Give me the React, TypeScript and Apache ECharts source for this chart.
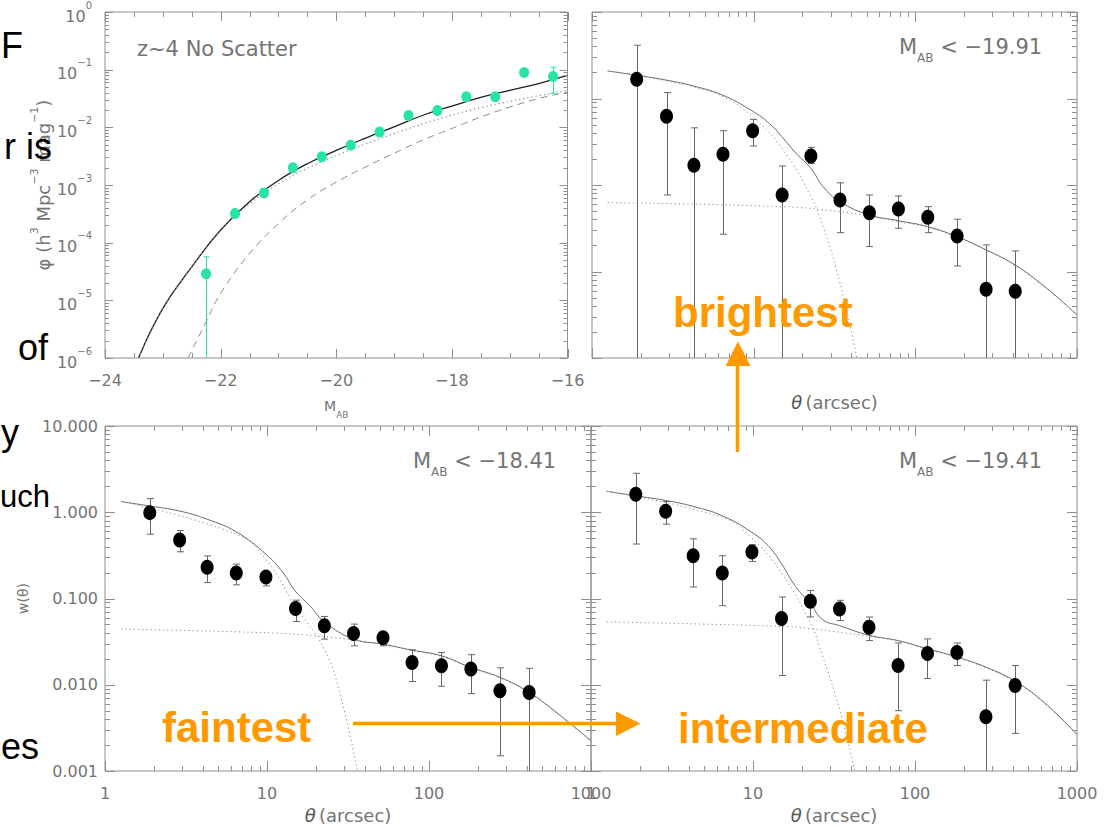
import React, { useEffect, useRef } from 'react';
import * as echarts from 'echarts';

// ---------------- Panel 1 : z~4 luminosity function ----------------
const lfMag = [-22.25, -21.75, -21.25, -20.75, -20.25, -19.75, -19.25, -18.75, -18.25, -17.75, -17.25, -16.75, -16.25];
const lfPhi = [2.9e-5, 3.2e-4, 7.3e-4, 2.0e-3, 3.1e-3, 4.9e-3, 8.3e-3, 0.016, 0.0195, 0.034, 0.034, 0.089, 0.076];
const lfErrHi = [5.7e-5, null, null, null, null, null, null, null, null, null, null, null, 0.11];
const lfErrLo = [null, null, null, null, null, null, null, null, null, null, null, null, 0.039];

const lfModelMag = [-23.42, -23, -22.5, -22, -21.5, -21, -20.5, -20, -19.5, -19, -18.5, -18, -17.5, -17, -16.5, -16];
const lfModelTotal = [1e-6, 7.24e-6, 3.8e-5, 1.66e-4, 5.13e-4, 1.2e-3, 2.34e-3, 3.98e-3, 6.46e-3, 0.0102, 0.0162, 0.0234, 0.0331, 0.0437, 0.0575, 0.0794];
const lfModelDotted = [1e-6, 7.24e-6, 3.8e-5, 1.62e-4, 4.68e-4, 1.05e-3, 1.95e-3, 3.24e-3, 5.13e-3, 7.76e-3, 0.0115, 0.0162, 0.0219, 0.0282, 0.0355, 0.0437];
const lfDashedMag = [-22.56, -22.25, -22, -21.5, -21, -20.5, -20, -19.5, -19, -18.5, -18, -17.5, -17, -16.5, -16];
const lfModelDashed = [1e-6, 4.27e-6, 1.32e-5, 6.46e-5, 2.14e-4, 5.5e-4, 1.12e-3, 2.04e-3, 3.55e-3, 6.03e-3, 9.55e-3, 0.0151, 0.0224, 0.0316, 0.0407];

// ---------------- Angular correlation bins ----------------
const thetaBins = [1.89, 2.89, 4.27, 6.46, 9.85, 15.0, 22.6, 34.2, 52.0, 78.6, 119.4, 181.3, 274, 415];

// brightest  (M_AB < -19.91)
const wBright = [1.67, 0.625, 0.169, 0.226, 0.424, 0.0767, 0.216, 0.0672, 0.0479, 0.0528, 0.0424, 0.0258, 0.00625, 0.00593];
const hiBright = [4.13, 1.17, 0.458, 0.424, 0.573, 0.166, 0.272, 0.106, 0.0767, 0.0746, 0.0562, 0.0402, 0.0203, 0.0173];
const loBright = [null, 0.0767, null, 0.027, 0.282, null, 0.178, 0.0281, 0.0194, 0.0316, 0.0281, 0.0116, null, null];
const brightModelTheta = [1.25, 1.89, 2.89, 4.27, 6.45, 9.85, 12.5, 14.96, 18.3, 22.6, 26.9, 34.2, 51.9, 78.5, 119.3, 181, 274, 414, 630, 1000];
const brightModelTotal = [2.08, 1.86, 1.63, 1.39, 1.09, 0.714, 0.515, 0.361, 0.232, 0.156, 0.0955, 0.0641, 0.0451, 0.0387, 0.033, 0.0253, 0.0178, 0.0119, 0.0067, 0.00316];
const brightOneHaloTheta = [1.25, 1.89, 2.89, 4.27, 6.45, 9.85, 14.96, 22.6, 26.9, 34.2, 43.5];
const brightOneHalo = [2.08, 1.84, 1.6, 1.36, 1.05, 0.614, 0.265, 0.0733, 0.033, 0.00733, 0.001];
const brightTwoHaloTheta = [1.25, 14.96, 34.2, 51.9, 78.5, 119.3, 181, 274, 414, 630, 1000];
const brightTwoHalo = [0.0625, 0.0562, 0.0492, 0.0437, 0.0376, 0.0324, 0.0248, 0.0176, 0.0117, 0.0066, 0.00313];

// faintest  (M_AB < -18.41)
const wFaint = [0.99, 0.478, 0.231, 0.198, 0.178, 0.0766, 0.0482, 0.0393, 0.035, 0.0181, 0.0166, 0.0152, 0.00853, 0.00815];
const hiFaint = [1.44, 0.614, 0.312, 0.25, 0.204, 0.0957, 0.0619, 0.0505, 0.0393, 0.0254, 0.0237, 0.0223, 0.0157, 0.0155];
const loFaint = [0.556, 0.348, 0.153, 0.144, 0.14, 0.0542, 0.0338, 0.0283, 0.0283, 0.0109, 0.0096, 0.0079, 0.0015, null];
const faintModelTheta = [1.26, 1.89, 2.87, 4.27, 6.46, 9.82, 12.55, 14.9, 18.4, 22.6, 34.3, 51.9, 78.5, 119, 181, 274, 415, 630, 1000];
const faintModelTotal = [1.33, 1.18, 1.035, 0.83, 0.592, 0.327, 0.2, 0.123, 0.0822, 0.0537, 0.0338, 0.0296, 0.0252, 0.0217, 0.0159, 0.0122, 0.00815, 0.00457, 0.00224];
const faintOneHaloTheta = [1.26, 6.46, 9.82, 14.9, 22.6, 28.4, 36.2];
const faintOneHalo = [1.33, 0.556, 0.286, 0.0822, 0.0259, 0.00746, 0.001];
const faintTwoHaloTheta = [1.26, 6.46, 14.9, 22.6, 34.3, 51.9, 78.5, 119, 181, 274, 415, 630, 1000];
const faintTwoHalo = [0.0442, 0.0411, 0.0386, 0.036, 0.0331, 0.0292, 0.0248, 0.0213, 0.0157, 0.012, 0.00804, 0.00452, 0.00221];

// intermediate  (M_AB < -19.41)
const wMid = [1.62, 1.03, 0.313, 0.197, 0.345, 0.0585, 0.0927, 0.0755, 0.0464, 0.0167, 0.023, 0.0236, 0.00425, 0.0098];
const hiMid = [2.83, 1.33, 0.492, 0.313, 0.42, 0.104, 0.124, 0.0953, 0.061, 0.0305, 0.034, 0.0305, 0.0113, 0.0167];
const loMid = [0.428, 0.728, 0.136, 0.0826, 0.269, 0.0128, 0.0611, 0.0555, 0.0325, 0.005, 0.0118, 0.0167, null, 0.00273];
const midModelTheta = [1.25, 1.89, 2.89, 4.27, 6.46, 9.86, 12.5, 15.0, 18.3, 22.6, 26.9, 34.2, 52.0, 78.7, 119.5, 181.5, 274, 415, 630, 1000];
const midModelTotal = [1.75, 1.55, 1.37, 1.17, 0.91, 0.583, 0.402, 0.253, 0.138, 0.0871, 0.0569, 0.0485, 0.0375, 0.0325, 0.0261, 0.021, 0.016, 0.011, 0.00618, 0.00265];
const midOneHaloTheta = [1.25, 6.46, 9.86, 15.0, 22.6, 26.9, 34.2, 42.5];
const midOneHalo = [1.75, 0.871, 0.501, 0.197, 0.052, 0.0214, 0.00518, 0.001];
const midTwoHaloTheta = [1.25, 15.0, 22.6, 34.2, 52.0, 78.7, 119.5, 181.5, 274, 415, 630, 1000];
const midTwoHalo = [0.0535, 0.0476, 0.0448, 0.0406, 0.0365, 0.032, 0.0257, 0.0207, 0.0157, 0.0108, 0.0061, 0.00263];

// ---------------- texts ----------------
const panelLabels = ['z~4 No Scatter', '−19.91', '−18.41', '−19.41'];
const sampleNames = ['brightest', 'faintest', 'intermediate'];
const slideFragments = ['F', 'r is', 'of', 'y', 'uch', 'es'];

const FONT = "'Liberation Sans', Arial, Helvetica, sans-serif";
const IDL = "'DejaVu Sans', 'Liberation Sans', sans-serif";
const FRAME = '#909090';
const LABEL = '#747474';
const CURVE = '#6a6a6a';
const DOT = '#8a8a8a';
const GREEN = '#27e3a4';
const ORANGE = '#ff9900';

type Tick = [number, number];

function decadeTicks(lo: number, hi: number, major: number, minor: number): Tick[] {
  const out: Tick[] = [];
  for (let e = lo; e <= hi; e++) {
    const base = Math.pow(10, e);
    out.push([base, major]);
    if (e < hi) for (let m = 2; m <= 9; m++) out.push([m * base, minor]);
  }
  return out;
}

function magTicks(): Tick[] {
  const out: Tick[] = [];
  for (let v = -24; v <= -16; v += 0.5) out.push([v, v % 2 === 0 ? 9 : 5]);
  return out;
}

function tickSeries(idx: number, xMin: number, yMin: number, xt: Tick[], yt: Tick[]) {
  const data = [
    ...xt.map(([v, l]) => [v, yMin, 0, l]),
    ...yt.map(([v, l]) => [xMin, v, 1, l]),
  ];
  return {
    type: 'custom',
    xAxisIndex: idx,
    yAxisIndex: idx,
    silent: true,
    clip: false,
    z: 6,
    encode: { x: 0, y: 1 },
    data,
    renderItem: (params: any, api: any) => {
      const cs = params.coordSys;
      const kind = api.value(2);
      const len = api.value(3);
      const p = api.coord([api.value(0), api.value(1)]);
      const st = { stroke: FRAME, lineWidth: 1 };
      if (kind === 0) {
        const x = Math.round(p[0]) + 0.5;
        return {
          type: 'group',
          children: [
            { type: 'line', shape: { x1: x, y1: cs.y + cs.height, x2: x, y2: cs.y + cs.height - len }, style: st },
            { type: 'line', shape: { x1: x, y1: cs.y, x2: x, y2: cs.y + len }, style: st },
          ],
        };
      }
      const y = Math.round(p[1]) + 0.5;
      return {
        type: 'group',
        children: [
          { type: 'line', shape: { x1: cs.x, y1: y, x2: cs.x + len, y2: y }, style: st },
          { type: 'line', shape: { x1: cs.x + cs.width, y1: y, x2: cs.x + cs.width - len, y2: y }, style: st },
        ],
      };
    },
  };
}

function errorSeries(idx: number, xs: number[], lo: (number | null)[], hi: (number | null)[], yMin: number, color: string, cap: number) {
  const data: any[] = [];
  xs.forEach((x, i) => {
    if (hi[i] != null) data.push([x, hi[i], lo[i] == null ? null : lo[i]]);
  });
  return {
    type: 'custom',
    xAxisIndex: idx,
    yAxisIndex: idx,
    silent: true,
    z: 4,
    encode: { x: 0, y: 1 },
    data,
    renderItem: (params: any, api: any) => {
      const x = api.value(0);
      const h = api.value(1);
      const l = api.value(2);
      const toAxis = l == null || isNaN(l) || l <= yMin;
      const pt = api.coord([x, h]);
      const pb = api.coord([x, toAxis ? yMin : l]);
      const px = Math.round(pt[0]) + 0.5;
      const st = { stroke: color, lineWidth: 1 };
      const children: any[] = [
        { type: 'line', shape: { x1: px, y1: pt[1], x2: px, y2: pb[1] }, style: st },
        { type: 'line', shape: { x1: px - cap, y1: pt[1], x2: px + cap, y2: pt[1] }, style: st },
      ];
      if (!toAxis) children.push({ type: 'line', shape: { x1: px - cap, y1: pb[1], x2: px + cap, y2: pb[1] }, style: st });
      return { type: 'group', children };
    },
  };
}

function lineSeries(idx: number, xs: number[], ys: number[], color: string, width: number, type: any) {
  return {
    type: 'line',
    xAxisIndex: idx,
    yAxisIndex: idx,
    data: xs.map((x, i) => [x, ys[i]]),
    showSymbol: false,
    symbol: 'none',
    smooth: 0.45,
    silent: true,
    z: 3,
    lineStyle: { color, width, type },
  };
}

function scatterSeries(idx: number, xs: number[], ys: number[], color: string, size: number[]) {
  return {
    type: 'scatter',
    xAxisIndex: idx,
    yAxisIndex: idx,
    data: xs.map((x, i) => [x, ys[i]]),
    symbol: 'circle',
    symbolSize: size,
    silent: true,
    z: 5,
    itemStyle: { color, opacity: 1 },
  };
}

const baseAxis = {
  axisLine: { show: false },
  axisTick: { show: false },
  splitLine: { show: false },
  minorTick: { show: false },
  minorSplitLine: { show: false },
};

const thetaName = '{i|θ} {n|(arcsec)}';
const thetaNameStyle = {
  rich: {
    i: { fontSize: 18, fontStyle: 'italic', color: '#555', fontFamily: IDL },
    n: { fontSize: 18, color: LABEL, fontFamily: IDL },
  },
};

function thetaX(idx: number, showLabels: boolean) {
  return {
    ...baseAxis,
    type: 'log',
    logBase: 10,
    gridIndex: idx,
    min: 1,
    max: 1000,
    splitNumber: 3,
    axisLabel: {
      show: showLabels,
      color: LABEL,
      fontSize: 16,
      fontFamily: IDL,
      margin: 14,
      showMinLabel: true,
      showMaxLabel: true,
      formatter: (v: number) => String(Math.round(v)),
    },
    name: thetaName,
    nameLocation: 'middle',
    nameGap: 35,
    nameTextStyle: thetaNameStyle,
  };
}

function wY(idx: number, showLabels: boolean) {
  return {
    ...baseAxis,
    type: 'log',
    logBase: 10,
    gridIndex: idx,
    min: 0.001,
    max: 10,
    splitNumber: 4,
    axisLabel: {
      show: showLabels,
      color: LABEL,
      fontSize: 16,
      fontFamily: IDL,
      margin: 7,
      showMinLabel: true,
      showMaxLabel: true,
      formatter: (v: number) => v.toFixed(3),
    },
  };
}

const subRich = (big: number, small: number, color: string, key: 'fill' | 'color') => ({
  m: { fontSize: big, lineHeight: big, verticalAlign: 'top', [key]: color, fontFamily: IDL },
  s: { fontSize: small, lineHeight: big + 6, verticalAlign: 'bottom', [key]: color, fontFamily: IDL },
});

function panelText(x: number, y: number, value: string) {
  return {
    type: 'text',
    x,
    y,
    z: 50,
    style: {
      text: `{m|M}{s|AB}{m| < ${value}}`,
      align: 'left',
      verticalAlign: 'middle',
      rich: subRich(21, 12, LABEL, 'fill'),
    },
  };
}

function orangeText(x: number, y: number, text: string) {
  return {
    type: 'text',
    x,
    y,
    z: 100,
    style: {
      text,
      fill: ORANGE,
      fontSize: 42,
      fontWeight: 'bold',
      fontFamily: FONT,
      align: 'left',
      verticalAlign: 'middle',
    },
  };
}

function slideText(x: number, y: number, text: string, size = 36) {
  return {
    type: 'text',
    x,
    y,
    z: 100,
    style: {
      text,
      fill: '#000',
      fontSize: size,
      fontFamily: FONT,
      align: 'left',
      verticalAlign: 'middle',
    },
  };
}

function buildOption() {
  const thetaXT = decadeTicks(0, 3, 10, 5);
  const wYT = decadeTicks(-3, 1, 10, 5);
  return {
    animation: false,
    backgroundColor: '#ffffff',
    grid: [
      { left: 105, top: 12, width: 462.5, height: 346, show: true, borderColor: FRAME, borderWidth: 1, backgroundColor: 'transparent' },
      { left: 592, top: 12, width: 485, height: 346, show: true, borderColor: FRAME, borderWidth: 1, backgroundColor: 'transparent' },
      { left: 105, top: 426, width: 486, height: 345, show: true, borderColor: FRAME, borderWidth: 1, backgroundColor: 'transparent' },
      { left: 591, top: 426, width: 486, height: 345, show: true, borderColor: FRAME, borderWidth: 1, backgroundColor: 'transparent' },
    ],
    xAxis: [
      {
        ...baseAxis,
        type: 'value',
        gridIndex: 0,
        min: -24,
        max: -16,
        interval: 2,
        axisLabel: {
          color: LABEL,
          fontSize: 16,
          fontFamily: IDL,
          margin: 14,
          showMinLabel: true,
          showMaxLabel: true,
          formatter: (v: number) => (v < 0 ? '−' + Math.abs(v) : String(v)),
        },
        name: '{m|M}{s|AB}',
        nameLocation: 'middle',
        nameGap: 41,
        nameTextStyle: { rich: subRich(14, 9, LABEL, 'color') },
      },
      thetaX(1, false),
      thetaX(2, true),
      thetaX(3, true),
    ],
    yAxis: [
      {
        ...baseAxis,
        type: 'log',
        logBase: 10,
        gridIndex: 0,
        min: 1e-6,
        max: 1,
        splitNumber: 6,
        axisLabel: {
          color: LABEL,
          margin: 13,
          showMinLabel: true,
          showMaxLabel: true,
          formatter: (v: number) => {
            const e = Math.round(Math.log10(v));
            return `{b|10}{s|${e === 0 ? '0' : '−' + Math.abs(e)}}`;
          },
          rich: {
            b: { fontSize: 16, lineHeight: 24, verticalAlign: 'bottom', color: LABEL, fontFamily: IDL },
            s: { fontSize: 10, lineHeight: 10, verticalAlign: 'top', color: LABEL, fontFamily: IDL },
          },
        },
        name: '{t|φ (h}{s|3}{t| Mpc}{s|−3}{t| mag}{s|−1}{t|)}',
        nameLocation: 'middle',
        nameRotate: 90,
        nameGap: 52,
        nameTextStyle: {
          rich: {
            t: { fontSize: 18, lineHeight: 24, verticalAlign: 'bottom', color: LABEL, fontFamily: IDL },
            s: { fontSize: 11, lineHeight: 11, verticalAlign: 'top', color: LABEL, fontFamily: IDL },
          },
        },
      },
      wY(1, false),
      { ...wY(2, true), name: 'w(θ)', nameLocation: 'middle', nameRotate: 90, nameGap: 75, nameTextStyle: { fontSize: 14, color: LABEL, fontFamily: IDL } },
      wY(3, false),
    ],
    series: [
      // panel 1
      tickSeries(0, -24, 1e-6, magTicks(), decadeTicks(-6, 0, 8, 4)),
      lineSeries(0, lfModelMag, lfModelTotal, '#1e1e1e', 1.3, 'solid'),
      lineSeries(0, lfModelMag, lfModelDotted, DOT, 1.2, [1.2, 3]),
      lineSeries(0, lfDashedMag, lfModelDashed, DOT, 1, [7, 5]),
      errorSeries(0, lfMag, lfErrLo, lfErrHi, 1e-6, GREEN, 3),
      scatterSeries(0, lfMag, lfPhi, GREEN, [10, 11]),
      // panel 2 brightest
      tickSeries(1, 1, 0.001, thetaXT, wYT),
      lineSeries(1, brightModelTheta, brightModelTotal, CURVE, 1, 'solid'),
      lineSeries(1, brightOneHaloTheta, brightOneHalo, DOT, 1, [1.2, 3]),
      lineSeries(1, brightTwoHaloTheta, brightTwoHalo, DOT, 1, [1.2, 3]),
      errorSeries(1, thetaBins, loBright, hiBright, 0.001, '#666', 3.5),
      scatterSeries(1, thetaBins, wBright, '#000', [13, 15]),
      // panel 3 faintest
      tickSeries(2, 1, 0.001, thetaXT, wYT),
      lineSeries(2, faintModelTheta, faintModelTotal, CURVE, 1, 'solid'),
      lineSeries(2, faintOneHaloTheta, faintOneHalo, DOT, 1, [1.2, 3]),
      lineSeries(2, faintTwoHaloTheta, faintTwoHalo, DOT, 1, [1.2, 3]),
      errorSeries(2, thetaBins, loFaint, hiFaint, 0.001, '#666', 3.5),
      scatterSeries(2, thetaBins, wFaint, '#000', [13, 15]),
      // panel 4 intermediate
      tickSeries(3, 1, 0.001, thetaXT, wYT),
      lineSeries(3, midModelTheta, midModelTotal, CURVE, 1, 'solid'),
      lineSeries(3, midOneHaloTheta, midOneHalo, DOT, 1, [1.2, 3]),
      lineSeries(3, midTwoHaloTheta, midTwoHalo, DOT, 1, [1.2, 3]),
      errorSeries(3, thetaBins, loMid, hiMid, 0.001, '#666', 3.5),
      scatterSeries(3, thetaBins, wMid, '#000', [13, 15]),
    ],
    graphic: {
      elements: [
        {
          type: 'text',
          x: 137,
          y: 49,
          z: 50,
          style: { text: panelLabels[0], fill: LABEL, fontSize: 21, fontFamily: IDL, align: 'left', verticalAlign: 'middle' },
        },
        panelText(899, 50, panelLabels[1]),
        panelText(413, 464, panelLabels[2]),
        panelText(899, 464, panelLabels[3]),
        orangeText(673, 312, sampleNames[0]),
        orangeText(162, 727, sampleNames[1]),
        orangeText(678, 728, sampleNames[2]),
        // arrow: intermediate -> brightest (vertical)
        { type: 'line', z: 100, shape: { x1: 737.5, y1: 452, x2: 737.5, y2: 364 }, style: { stroke: ORANGE, lineWidth: 3.5 } },
        { type: 'polygon', z: 100, shape: { points: [[725.5, 366], [750.5, 366], [738, 341.5]] }, style: { fill: ORANGE } },
        // arrow: faintest -> intermediate (horizontal)
        { type: 'line', z: 100, shape: { x1: 353, y1: 723.5, x2: 618, y2: 723.5 }, style: { stroke: ORANGE, lineWidth: 3.5 } },
        { type: 'polygon', z: 100, shape: { points: [[616, 711.5], [616, 736], [640.5, 723.5]] }, style: { fill: ORANGE } },
        // slide text fragments at the left edge
        slideText(1, 45, slideFragments[0]),
        slideText(4, 146, slideFragments[1]),
        slideText(18, 347, slideFragments[2]),
        slideText(1, 432, slideFragments[3]),
        slideText(0, 496, slideFragments[4], 31),
        slideText(1, 746, slideFragments[5]),
      ],
    },
  };
}

export default function App() {
  const ref = useRef<HTMLDivElement>(null);
  useEffect(() => {
    const chart = echarts.init(ref.current as HTMLDivElement, undefined, { renderer: 'svg' });
    chart.setOption(buildOption() as any);
    return () => chart.dispose();
  }, []);
  return (
    <div
      ref={ref}
      style={{ position: 'absolute', left: 0, top: 0, width: 1110, height: 827, background: '#fff' }}
    />
  );
}
